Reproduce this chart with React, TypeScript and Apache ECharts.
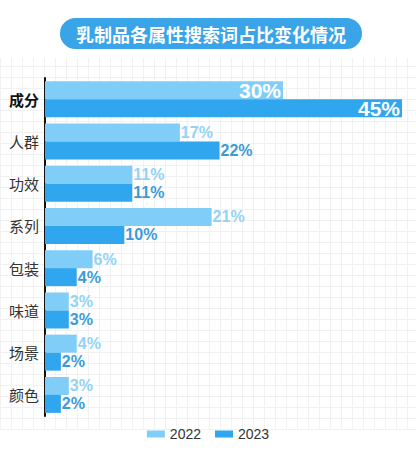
import React, { useEffect, useRef } from "react";
import * as echarts from "echarts";

const categories = ["成分", "人群", "功效", "系列", "包装", "味道", "场景", "颜色"];
const values2022 = [30, 17, 11, 21, 6, 3, 4, 3];
const values2023 = [45, 22, 11, 10, 4, 3, 2, 2];
const seriesNames = ["2022", "2023"];
const title = "乳制品各属性搜索词占比变化情况";

const FONT = "'Noto Sans CJK SC', 'Noto Sans', sans-serif";
const C22 = "#80cdf7";
const C23 = "#2fa6ee";

function makeData(vals: number[]) {
  return vals.map((v, i) =>
    i === 0
      ? {
          value: v,
          label: {
            position: "insideRight",
            color: "#ffffff",
            fontSize: 21,
            fontWeight: "bold",
            distance: 2,
          },
        }
      : { value: v }
  );
}

export default function App() {
  const ref = useRef<HTMLDivElement>(null);
  useEffect(() => {
    document.body.style.margin = "0";
    const chart = echarts.init(ref.current!, null, { renderer: "svg" });
    chart.setOption({
      animation: false,
      backgroundColor: "transparent",
      graphic: [
        {
          type: "rect",
          shape: { x: 60, y: 18, width: 302, height: 31, r: 15.5 },
          style: { fill: "#3aa4e8" },
        },
        {
          type: "text",
          x: 211,
          y: 34,
          style: {
            text: title,
            fill: "#ffffff",
            font: `bold 18px ${FONT}`,
            align: "center",
            verticalAlign: "middle",
          },
        },
      ],
      legend: {
        bottom: 12,
        left: "center",
        itemWidth: 18,
        itemHeight: 7,
        itemGap: 14,
        icon: "rect",
        textStyle: { fontSize: 14, color: "#333", fontFamily: "Liberation Sans, Arial, sans-serif" },
        data: seriesNames,
      },
      grid: { left: 45, right: 14, top: 78, bottom: 42, containLabel: false },
      xAxis: {
        type: "value",
        min: 0,
        max: 45,
        show: false,
      },
      yAxis: {
        type: "category",
        data: categories,
        inverse: true,
        axisLine: { show: true, lineStyle: { color: "#111", width: 2 } },
        axisTick: { show: false },
        axisLabel: {
          margin: 6,
          fontSize: 15,
          color: "#333",
          fontFamily: FONT,
          formatter: (v: string) => (v === "成分" ? `{b|${v}}` : v),
          rich: {
            b: { fontSize: 15, fontWeight: "bold", color: "#111", fontFamily: FONT },
          },
        },
      },
      series: [
        {
          name: seriesNames[0],
          type: "bar",
          barWidth: 18,
          barGap: "0%",
          itemStyle: { color: C22 },
          label: {
            show: true,
            position: "right",
            distance: 1,
            formatter: "{c}%",
            color: "#92d3f6",
            fontSize: 16,
            fontWeight: "bold",
            fontFamily: "Liberation Sans, Arial, sans-serif",
          },
          data: makeData(values2022),
        },
        {
          name: seriesNames[1],
          type: "bar",
          barWidth: 18,
          barGap: "0%",
          itemStyle: { color: C23 },
          label: {
            show: true,
            position: "right",
            distance: 1,
            formatter: "{c}%",
            color: "#3a9bd8",
            fontSize: 16,
            fontWeight: "bold",
            fontFamily: "Liberation Sans, Arial, sans-serif",
          },
          data: makeData(values2023),
        },
      ],
    });
    return () => chart.dispose();
  }, []);
  const grid =
    "repeating-linear-gradient(0deg, #f1f1f1 0px, #f1f1f1 1px, transparent 1px, transparent 11px), repeating-linear-gradient(90deg, #f1f1f1 0px, #f1f1f1 1px, transparent 1px, transparent 11px)";
  return (
    <div
      style={{
        position: "fixed",
        left: 0,
        top: 0,
        width: 416,
        height: 458,
        background: "#ffffff",
      }}
    >
      <div
        style={{
          position: "absolute",
          left: 0,
          top: 58,
          width: 416,
          height: 372,
          backgroundImage: grid,
        }}
      />
      <div ref={ref} style={{ position: "absolute", left: 0, top: 0, width: 416, height: 458 }} />
    </div>
  );
}
